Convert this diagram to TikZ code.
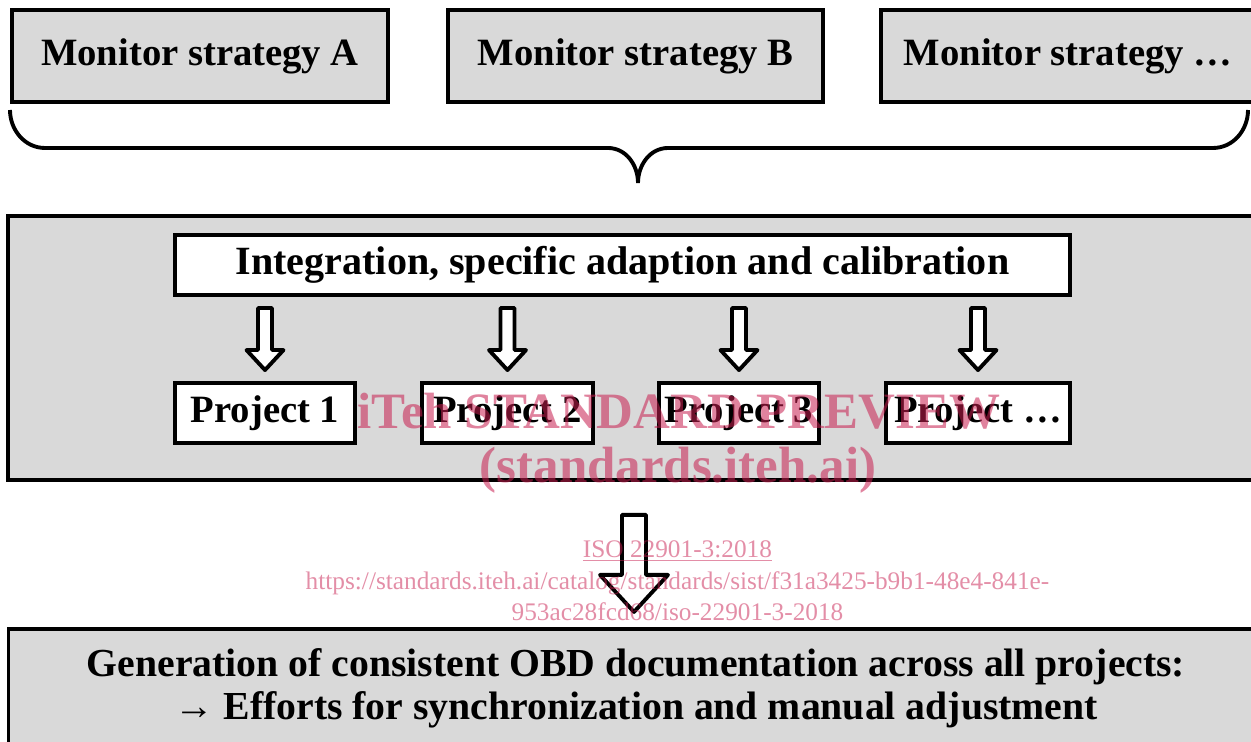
\documentclass[tikz,border=0pt]{standalone}
\usepackage{fontspec}
\setmainfont{Liberation Serif}
\usetikzlibrary{calc}
\definecolor{boxgray}{HTML}{D9D9D9}
\definecolor{wmpink}{RGB}{200,30,80}

\begin{document}
\begin{tikzpicture}[
  font=\bfseries\fontsize{22}{26}\selectfont,
  box/.style={draw=black, line width=2.2pt, fill=boxgray, inner sep=0pt},
  wbox/.style={draw=black, line width=2.2pt, fill=white, inner sep=0pt, minimum height=1.2cm},
  brace/.style={line width=2.2pt, draw=black},
  hollow/.style={draw=black, line width=2.2pt, fill=white, line join=round},
  wmtitle/.style={text=wmpink, text opacity=0.55, font=\bfseries\fontsize{29}{32}\selectfont},
  wmlink/.style={text=wmpink, text opacity=0.5, align=center, font=\mdseries\fontsize{14.4}{18}\selectfont}
]

\useasboundingbox (0,0) rectangle (25.02,14.84);
\clip (0,0) rectangle (25.02,14.84);

% ===================== TOP: monitor strategies =====================
\node[box, minimum width=7.52cm, minimum height=1.84cm] (msA) at (4.0,13.72)   {Monitor strategy A};
\node[box, minimum width=7.50cm, minimum height=1.84cm] (msB) at (12.71,13.72) {Monitor strategy B};
\node[box, minimum width=7.48cm, minimum height=1.84cm] (msX) at (21.36,13.72) {Monitor strategy \dots};

% Brace
\coordinate (brtip) at (12.76,11.18);
\draw[brace] (0.2,12.64) to[out=-90,in=180] (0.9,11.88) -- (12.16,11.88)
  to[out=0,in=90] (brtip) to[out=90,in=180] (13.36,11.88) -- (24.26,11.88)
  to[out=0,in=-90] (24.96,12.64);

% ===================== MIDDLE: integration and projects =====================
\node[box, minimum width=25.1cm, minimum height=5.28cm] (work) at (12.71,7.88) {};
\node[wbox, minimum width=17.9cm, font=\bfseries\fontsize{22.8}{26}\selectfont] (integ) at (12.45,9.54)
  {Integration, specific adaption and calibration};

\node[wbox, minimum width=3.60cm] (p1) at (5.30,6.58)  {Project 1};
\node[wbox, minimum width=3.42cm] (p2) at (10.15,6.58) {Project 2};
\node[wbox, minimum width=3.20cm] (p3) at (14.78,6.58) {Project 3};
\node[wbox, minimum width=3.68cm] (p4) at (19.56,6.58) {Project \dots};

% Hollow arrows into the projects
\foreach \p in {p1,p2,p3,p4}
  \draw[hollow, shift={(\p.north)}] (-0.14,1.46) -- (0.14,1.46) -- (0.14,0.62)
    -- (0.37,0.62) -- (0,0.22) -- (-0.37,0.62) -- (-0.14,0.62) -- cycle;

% ===================== BOTTOM: documentation =====================
\draw[hollow, shift={(work.south)}] (-0.27,-0.66) -- (0.21,-0.66) -- (0.21,-1.86)
  -- (0.65,-1.86) -- (-0.03,-2.6) -- (-0.71,-1.86) -- (-0.27,-1.86) -- cycle;

\node[box, minimum width=25.1cm, minimum height=2.36cm, align=center,
      font=\bfseries\fontsize{22.6}{24.6}\selectfont] (gen) at (12.72,1.08)
  {Generation of consistent OBD documentation across all projects:\\
   → Efforts for synchronization and manual adjustment};

% Watermark
\node[wmtitle] (wm1) at (13.58,6.62) {iTeh STANDARD PREVIEW};
\node[wmtitle] (wm2) at (13.56,5.44) {(standards.iteh.ai)};
\node[wmlink]  (wm3) at (13.55,3.22)
  {\underline{ISO 22901-3:2018}\\
   https://standards.iteh.ai/catalog/standards/sist/f31a3425-b9b1-48e4-841e-\\
   953ac28fcd68/iso-22901-3-2018};

\end{tikzpicture}
\end{document}
